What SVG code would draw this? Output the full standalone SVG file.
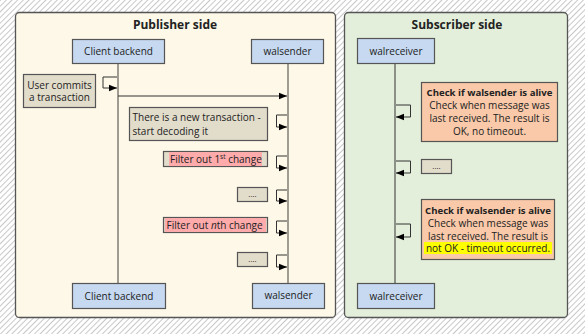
<svg xmlns="http://www.w3.org/2000/svg" width="585" height="334" viewBox="0 0 585 334">
<defs>
<pattern id="hatch" width="4" height="4" patternUnits="userSpaceOnUse" patternTransform="rotate(45)">
<rect width="4" height="4" fill="#ffffff"/>
<line x1="0" y1="0" x2="0" y2="4" stroke="#b0b0b0" stroke-width="1.4"/>
</pattern>
<marker id="ah" viewBox="0 0 10 10" refX="10" refY="5" markerWidth="8" markerHeight="8" markerUnits="userSpaceOnUse" orient="auto">
<path d="M0,1 L10,5 L0,9 z" fill="#000"/>
</marker>
</defs>
<style>
text{font-family:"Open Sans","Noto Sans","DejaVu Sans",sans-serif;fill:#222}
.ttl{font-size:12px;font-weight:bold;text-anchor:middle}
.nd{fill:#c6d9f1;stroke:#555;stroke-width:1.2}
.nt{font-size:10px;text-anchor:middle}
.gb{fill:#e2dccb;stroke:#555;stroke-width:1.2}
.ob{fill:#f9c9a9;stroke:#555;stroke-width:1.2}
.gt{font-size:10px}
.ct{font-size:10px;text-anchor:middle}
.cb{font-size:9.6px;font-weight:bold;text-anchor:middle}
.life{stroke:#8a857c;stroke-width:1.6;fill:none}
.life2{stroke:#444;stroke-width:1.1;fill:none}
.loop{stroke:#333;stroke-width:1;fill:none}
.dots{font-size:8px;text-anchor:middle}
</style>
<rect width="585" height="334" fill="url(#hatch)"/>
<g id="publisher-panel">
<rect x="15.5" y="12.5" width="320" height="305" rx="4" fill="#fdf8e7" stroke="#555" stroke-width="1.3"/>
<text class="ttl" x="175" y="29">Publisher side</text>
</g>
<g id="subscriber-panel">
<rect x="344.5" y="12.5" width="223" height="305" rx="4" fill="#e3efda" stroke="#555" stroke-width="1.3"/>
<text class="ttl" x="457" y="29">Subscriber side</text>
</g>
<g id="connectors">
<line class="life" x1="118" y1="63" x2="118" y2="283"/>
<line class="life" x1="288" y1="63" x2="288" y2="283"/>
<line class="life2" x1="395" y1="63" x2="395" y2="283"/>
<path class="loop" d="M117,77 H103 V88 H117" marker-end="url(#ah)"/>
<line class="loop" x1="118" y1="96" x2="287" y2="96" marker-end="url(#ah)"/>
<path class="loop" d="M287,115 H276.5 V127 H287" marker-end="url(#ah)"/>
<path class="loop" d="M287,156 H276.5 V168 H287" marker-end="url(#ah)"/>
<path class="loop" d="M287,190 H276.5 V201 H287" marker-end="url(#ah)"/>
<path class="loop" d="M287,221 H276.5 V233 H287" marker-end="url(#ah)"/>
<path class="loop" d="M287,255 H276.5 V267 H287" marker-end="url(#ah)"/>
<path class="loop" d="M396,105 H410.5 V117 H396" marker-end="url(#ah)"/>
<path class="loop" d="M396,161 H410.5 V173 H396" marker-end="url(#ah)"/>
<path class="loop" d="M396,224 H410.5 V237 H396" marker-end="url(#ah)"/>
</g>
<g id="client-backend-top">
<rect class="nd" x="72.5" y="39.5" width="92" height="24"/>
<text class="nt" x="118.5" y="55">Client backend</text>
</g>
<g id="walsender-top">
<rect class="nd" x="251.5" y="39.5" width="72" height="24"/>
<text class="nt" x="287.5" y="55">walsender</text>
</g>
<g id="walreceiver-top">
<rect class="nd" x="357.5" y="38.5" width="77" height="25"/>
<text class="nt" x="396" y="54.5">walreceiver</text>
</g>
<g id="client-backend-bottom">
<rect class="nd" x="72.5" y="283.5" width="93" height="25"/>
<text class="nt" x="119" y="299.5">Client backend</text>
</g>
<g id="walsender-bottom">
<rect class="nd" x="252.5" y="283.5" width="72" height="25"/>
<text class="nt" x="288.5" y="299">walsender</text>
</g>
<g id="walreceiver-bottom">
<rect class="nd" x="357.5" y="283.5" width="77" height="25"/>
<text class="nt" x="396" y="299.5">walreceiver</text>
</g>
<g id="user-commits">
<rect class="gb" x="23.5" y="74.5" width="72" height="33"/>
<text class="gt" x="59.5" y="88.5" text-anchor="middle">User commits</text>
<text class="gt" x="59.5" y="101" text-anchor="middle">a transaction</text>
</g>
<g id="new-transaction">
<rect class="gb" x="129.5" y="107.5" width="138" height="33"/>
<text class="gt" x="132.5" y="121">There is a new transaction -</text>
<text class="gt" x="132.5" y="134.5">start decoding it</text>
</g>
<g id="filter-1st">
<rect class="gb" x="163.5" y="151.5" width="104" height="15"/>
<rect x="169" y="152" width="93" height="14" fill="#ffabab"/>
<text class="gt" x="170" y="162.5">Filter out 1<tspan font-size="6.5" dy="-3.5">st</tspan><tspan dy="3.5"> change</tspan></text>
</g>
<g id="dots-1">
<rect class="gb" x="237.5" y="187.5" width="30" height="14"/>
<text class="dots" x="252.5" y="197">....</text>
</g>
<g id="filter-nth">
<rect class="gb" x="163.5" y="217.5" width="104" height="15"/>
<rect x="165" y="218" width="101" height="14" fill="#ffabab"/>
<text class="gt" x="166.5" y="228.5">Filter out <tspan font-style="italic">n</tspan>th change</text>
</g>
<g id="dots-2">
<rect class="gb" x="237.5" y="252.5" width="30" height="14"/>
<text class="dots" x="252.5" y="262">....</text>
</g>
<g id="check-alive-1">
<rect class="ob" x="421.5" y="82.5" width="136" height="59"/>
<text class="cb" x="489.5" y="96">Check if walsender is alive</text>
<text class="ct" x="489.5" y="109">Check when message was</text>
<text class="ct" x="489.5" y="122">last received. The result is</text>
<text class="ct" x="489.5" y="135">OK, no timeout.</text>
</g>
<g id="dots-3">
<rect class="gb" x="421.5" y="159.5" width="30" height="14"/>
<text class="dots" x="436.5" y="169">....</text>
</g>
<g id="check-alive-2">
<rect class="ob" x="421.5" y="199.5" width="133" height="60"/>
<rect x="424" y="242" width="128" height="12" fill="#ffff00"/>
<text class="cb" x="488" y="213.5">Check if walsender is alive</text>
<text class="ct" x="488" y="226.5">Check when message was</text>
<text class="ct" x="488" y="239.5">last received. The result is</text>
<text class="ct" x="488" y="252">not OK - timeout occurred.</text>
</g>
</svg>
